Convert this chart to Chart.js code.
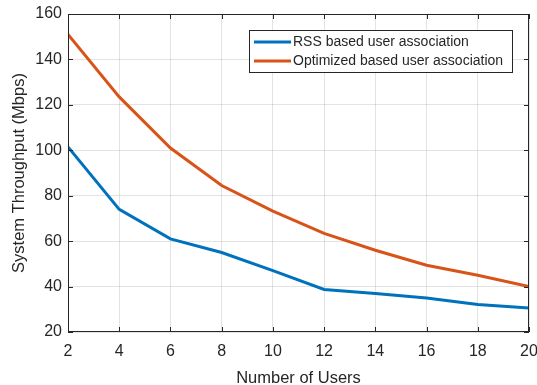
<!DOCTYPE html>
<html>
<head>
    <title>System Throughput</title>
    <script src="https://cdn.jsdelivr.net/npm/chart.js"></script>
    <style>
        body { margin: 0; background: #fff; }
        #wrap { width: 537px; height: 385px; }
    </style>
</head>
<body>
<div id="wrap"><canvas id="throughputChart" width="537" height="385"></canvas></div>
<script>
    // values
    const users = [2, 4, 6, 8, 10, 12, 14, 16, 18, 20];
    const rssThroughput = [101.5, 74, 61, 55, 47, 38.7, 37, 35, 32.1, 30.6];
    const optThroughput = [151, 123.5, 101, 84.5, 73.2, 63.4, 56, 49.4, 45, 40];
    const seriesNames = ['RSS based user association', 'Optimized based user association'];
    const seriesColors = ['#0072BD', '#D95319'];

    const FONT = '"Liberation Sans", Arial, Helvetica, sans-serif';
    const AXIS = '#262626';

    function toPoints(vals) {
        return users.map((u, i) => ({ x: u, y: vals[i] }));
    }

    // frame with inward ticks on all four sides (matlab look)
    const framePlugin = {
        id: 'frame',
        afterDatasetsDraw(chart) {
            const { ctx, chartArea: a, scales } = chart;
            ctx.save();
            ctx.strokeStyle = AXIS;
            ctx.lineWidth = 1;
            ctx.strokeRect(a.left + 0.5, a.top + 0.5, a.right - a.left - 1, a.bottom - a.top - 1);
            const len = 5;
            ctx.beginPath();
            scales.x.ticks.forEach(t => {
                const px = Math.round(scales.x.getPixelForValue(t.value)) + 0.5;
                ctx.moveTo(px, a.bottom); ctx.lineTo(px, a.bottom - len);
                ctx.moveTo(px, a.top); ctx.lineTo(px, a.top + len);
            });
            scales.y.ticks.forEach(t => {
                const py = Math.round(scales.y.getPixelForValue(t.value)) + 0.5;
                ctx.moveTo(a.left, py); ctx.lineTo(a.left + len, py);
                ctx.moveTo(a.right, py); ctx.lineTo(a.right - len, py);
            });
            ctx.stroke();
            ctx.restore();
        }
    };

    // legend box drawn inside the plot, top right
    const boxLegend = {
        id: 'boxLegend',
        afterDraw(chart) {
            const ctx = chart.ctx;
            const x0 = 249, y0 = 30, w = 263, h = 42;
            ctx.save();
            ctx.fillStyle = '#fff';
            ctx.fillRect(x0, y0, w, h);
            ctx.strokeStyle = AXIS;
            ctx.lineWidth = 1;
            ctx.strokeRect(x0 + 0.5, y0 + 0.5, w, h);
            ctx.font = '14px ' + FONT;
            ctx.textBaseline = 'middle';
            chart.data.datasets.forEach((ds, i) => {
                const y = y0 + 12 + i * 19;
                ctx.strokeStyle = ds.borderColor;
                ctx.lineWidth = 3;
                ctx.beginPath();
                ctx.moveTo(x0 + 5, y); ctx.lineTo(x0 + 42, y);
                ctx.stroke();
                ctx.fillStyle = AXIS;
                ctx.fillText(ds.label, x0 + 44, y);
            });
            ctx.restore();
        }
    };

    new Chart(document.getElementById('throughputChart'), {
        type: 'line',
        data: {
            datasets: [
                { label: seriesNames[0], data: toPoints(rssThroughput), borderColor: seriesColors[0] },
                { label: seriesNames[1], data: toPoints(optThroughput), borderColor: seriesColors[1] }
            ]
        },
        options: {
            responsive: false,
            animation: false,
            elements: {
                line: { borderWidth: 3, tension: 0 },
                point: { radius: 0 }
            },
            layout: { padding: { top: 14, right: 8, left: 6, bottom: 0 } },
            plugins: {
                legend: { display: false },
                tooltip: { enabled: false }
            },
            scales: {
                x: {
                    type: 'linear',
                    min: 2, max: 20,
                    ticks: { stepSize: 2, color: AXIS, font: { family: FONT, size: 16 }, padding: 10, maxRotation: 0 },
                    grid: { color: 'rgba(38,38,38,0.13)', drawTicks: false },
                    border: { display: false },
                    title: { display: true, text: 'Number of Users', color: AXIS, font: { family: FONT, size: 16.5 }, padding: { top: 0, bottom: -3 } },
                    afterFit(s) { s.height = 53; s.paddingLeft = 0; s.paddingRight = 0; }
                },
                y: {
                    min: 20, max: 160,
                    ticks: { stepSize: 20, color: AXIS, font: { family: FONT, size: 16 }, padding: 6 },
                    grid: { color: 'rgba(38,38,38,0.13)', drawTicks: false },
                    border: { display: false },
                    title: { display: true, text: 'System Throughput (Mbps)', color: AXIS, font: { family: FONT, size: 16.5 }, padding: { bottom: 0 } },
                    afterFit(s) { s.width = 62; s.paddingTop = 0; s.paddingBottom = 0; }
                }
            }
        },
        plugins: [framePlugin, boxLegend]
    });
</script>
</body>
</html>
